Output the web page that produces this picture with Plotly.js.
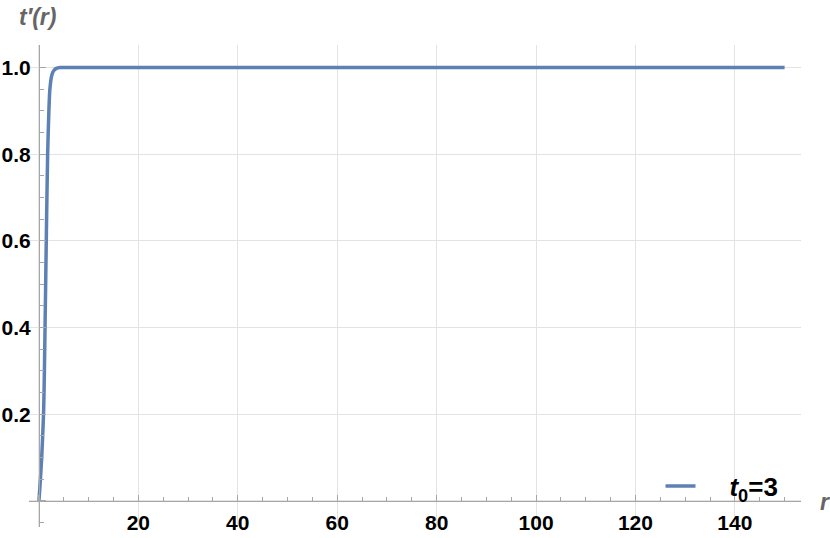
<!DOCTYPE html>
<html>
<head>
<meta charset="utf-8">
<script src="https://cdn.plot.ly/plotly-3.0.1.min.js"></script>
<style>
  html, body { margin: 0; padding: 0; background: #fff; }
  #chart { width: 830px; height: 538px; }
</style>
</head>
<body>
<div id="chart"></div>
<script>
// t'(r) for t0 = 3
var r = [0, 0.3, 0.55, 0.75, 0.95, 1.1, 1.25, 1.5, 1.75, 2.0, 2.2, 2.6, 3.0, 3.5, 4.3, 6, 150];
var tPrime = [0, 0.05, 0.1, 0.15, 0.21, 0.3, 0.42, 0.62, 0.8, 0.9, 0.95, 0.983, 0.993, 0.998, 1.0, 1.0, 1.0];

var xTicks = [0, 20, 40, 60, 80, 100, 120, 140];
var xLabels = ['', '<b>20</b>', '<b>40</b>', '<b>60</b>', '<b>80</b>', '<b>100</b>', '<b>120</b>', '<b>140</b>'];
var yTicks = [0, 0.2, 0.4, 0.6, 0.8, 1.0];
var yLabels = ['', '<b>0.2</b>', '<b>0.4</b>', '<b>0.6</b>', '<b>0.8</b>', '<b>1.0</b>'];

var xRange = [-2, 153.3];
var yRange = [-0.06, 1.052];

var axisGray = '#a6a6a6';
var gridGray = '#e3e3e3';
var fontFam = 'Liberation Sans, Arial, sans-serif';
var tickFont = {family: fontFam, size: 21, color: '#000'};

var trace1 = {
    x: r,
    y: tPrime,
    mode: 'lines',
    name: '&nbsp;&nbsp;&nbsp;&nbsp;<b><i>t</i><sub>0</sub>=3</b>',
    line: {color: '#5E81B5', width: 3.5, shape: 'spline', smoothing: 0.6}
};

var layout = {
    width: 830,
    height: 538,
    margin: {l: 29, r: 29, t: 45, b: 11},
    paper_bgcolor: '#fff',
    plot_bgcolor: '#fff',
    showlegend: true,
    legend: {
        x: 0.818, y: 0.085, xanchor: 'left', yanchor: 'middle',
        bgcolor: 'rgba(0,0,0,0)',
        font: {family: fontFam, size: 26, color: '#000'}
    },
    xaxis: {
        range: xRange,
        anchor: 'free',
        position: (0 - yRange[0]) / (yRange[1] - yRange[0]),
        showline: true, linecolor: axisGray, linewidth: 1,
        zeroline: false,
        showgrid: true, gridcolor: gridGray,
        tickmode: 'array', tickvals: xTicks, ticktext: xLabels,
        ticks: 'inside', ticklen: 6, tickcolor: axisGray,
        ticklabelstandoff: 3,
        minor: {tickmode: 'linear', tick0: 0, dtick: 5, ticks: 'inside', ticklen: 4, tickcolor: axisGray, showgrid: false},
        tickfont: tickFont
    },
    yaxis: {
        range: yRange,
        anchor: 'free',
        position: (0 - xRange[0]) / (xRange[1] - xRange[0]),
        showline: true, linecolor: axisGray, linewidth: 1,
        zeroline: false,
        showgrid: true, gridcolor: gridGray,
        tickmode: 'array', tickvals: yTicks, ticktext: yLabels,
        ticks: 'inside', ticklen: 6, tickcolor: axisGray,
        ticklabelstandoff: 4,
        minor: {tickmode: 'linear', tick0: 0, dtick: 0.05, ticks: 'inside', ticklen: 4, tickcolor: axisGray, showgrid: false},
        tickfont: tickFont
    },
    annotations: [
        {
            text: "<b><i>t′(r)</i></b>", xref: 'paper', yref: 'paper',
            x: 0.0104, y: 1.058, xanchor: 'center', yanchor: 'middle', showarrow: false,
            font: {family: fontFam, size: 23, color: '#666'}
        },
        {
            text: "<b><i>r</i></b>", xref: 'paper', yref: 'paper',
            x: 1.031, y: 0.052, xanchor: 'center', yanchor: 'middle', showarrow: false,
            font: {family: fontFam, size: 23, color: '#666'}
        }
    ]
};

Plotly.newPlot('chart', [trace1], layout, {displayModeBar: false});
</script>
</body>
</html>
